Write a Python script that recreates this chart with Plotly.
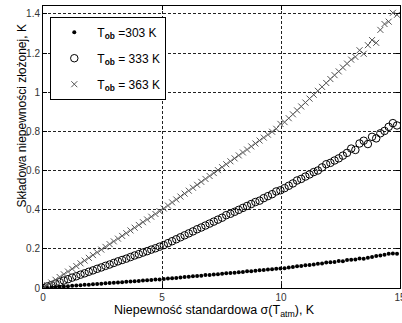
import plotly.graph_objects as go

sigma_atm = [0, 0.175, 0.35, 0.525, 0.7, 0.875, 1.05, 1.225, 1.4, 1.575,
             1.75, 1.925, 2.1, 2.275, 2.45, 2.625, 2.8, 2.975, 3.15, 3.325,
             3.5, 3.675, 3.85, 4.025, 4.2, 4.375, 4.55, 4.725, 4.9, 5.075,
             5.25, 5.425, 5.6, 5.775, 5.95, 6.125, 6.3, 6.475, 6.65, 6.825,
             7.0, 7.175, 7.35, 7.525, 7.7, 7.875, 8.05, 8.225, 8.4, 8.575,
             8.75, 8.925, 9.1, 9.275, 9.45, 9.625, 9.8, 9.975, 10.15, 10.325,
             10.5, 10.675, 10.85, 11.025, 11.2, 11.375, 11.55, 11.725, 11.9, 12.075,
             12.25, 12.425, 12.6, 12.775, 12.95, 13.125, 13.3, 13.475, 13.65, 13.825,
             14.0, 14.175, 14.35, 14.525, 14.7, 14.875]

u_303 = [0, 0.002, 0.003, 0.005, 0.006, 0.008, 0.009, 0.011, 0.013, 0.014,
         0.016, 0.017, 0.019, 0.020, 0.022, 0.024, 0.025, 0.027, 0.028, 0.030,
         0.032, 0.033, 0.035, 0.036, 0.038, 0.039, 0.041, 0.043, 0.044, 0.046,
         0.048, 0.050, 0.051, 0.053, 0.056, 0.057, 0.060, 0.061, 0.063, 0.066,
         0.067, 0.069, 0.070, 0.073, 0.075, 0.077, 0.078, 0.081, 0.082, 0.085,
         0.086, 0.088, 0.091, 0.092, 0.094, 0.096, 0.098, 0.100, 0.101, 0.105,
         0.107, 0.111, 0.112, 0.116, 0.118, 0.120, 0.124, 0.125, 0.130, 0.131,
         0.133, 0.138, 0.136, 0.143, 0.144, 0.146, 0.151, 0.149, 0.155, 0.158,
         0.163, 0.166, 0.170, 0.175, 0.176, 0.175]

u_333 = [0, 0.008, 0.015, 0.023, 0.030, 0.038, 0.045, 0.053, 0.060, 0.068,
         0.075, 0.083, 0.090, 0.098, 0.105, 0.113, 0.120, 0.128, 0.136, 0.143,
         0.150, 0.158, 0.166, 0.173, 0.181, 0.188, 0.196, 0.203, 0.211, 0.219,
         0.229, 0.239, 0.249, 0.259, 0.269, 0.279, 0.289, 0.300, 0.309, 0.319,
         0.329, 0.339, 0.349, 0.359, 0.372, 0.379, 0.389, 0.399, 0.409, 0.419,
         0.429, 0.439, 0.446, 0.459, 0.469, 0.479, 0.493, 0.499, 0.510, 0.522,
         0.534, 0.549, 0.557, 0.569, 0.580, 0.592, 0.600, 0.616, 0.632, 0.639,
         0.651, 0.662, 0.676, 0.690, 0.712, 0.705, 0.738, 0.752, 0.735, 0.772,
         0.764, 0.790, 0.802, 0.823, 0.842, 0.830]

u_363 = [0, 0.014, 0.028, 0.042, 0.056, 0.070, 0.084, 0.098, 0.112, 0.126,
         0.140, 0.154, 0.168, 0.182, 0.196, 0.210, 0.224, 0.238, 0.252, 0.266,
         0.280, 0.294, 0.308, 0.322, 0.336, 0.350, 0.364, 0.378, 0.392, 0.406,
         0.421, 0.437, 0.452, 0.467, 0.482, 0.497, 0.512, 0.527, 0.542, 0.557,
         0.572, 0.587, 0.602, 0.617, 0.632, 0.647, 0.662, 0.677, 0.692, 0.707,
         0.723, 0.738, 0.753, 0.768, 0.783, 0.798, 0.813, 0.838, 0.847, 0.867,
         0.887, 0.907, 0.927, 0.947, 0.967, 0.987, 1.007, 1.027, 1.047, 1.067,
         1.087, 1.106, 1.126, 1.146, 1.166, 1.180, 1.214, 1.196, 1.240, 1.266,
         1.252, 1.318, 1.348, 1.360, 1.405, 1.395]

names = ["T<sub><b>ob</b></sub> =303 K",
         "T<sub><b>ob</b></sub> = 333 K",
         "T<sub><b>ob</b></sub> = 363 K"]

x_ticks = [0, 5, 10, 15]
y_ticks = [0, 0.2, 0.4, 0.6, 0.8, 1, 1.2, 1.4]
y_tick_text = ["0", "0.2", "0.4", "0.6", "0.8", "1", "1.2", "1.4"]

FONT = "Arial, 'Liberation Sans', Helvetica, sans-serif"

fig = go.Figure()
fig.add_trace(go.Scatter(x=sigma_atm, y=u_303, mode="markers", name=names[0],
                         legendgroup="a",
                         marker=dict(symbol="circle", size=4, color="black")))
fig.add_trace(go.Scatter(x=sigma_atm, y=u_333, mode="markers", name=names[1],
                         legendgroup="b",
                         marker=dict(symbol="circle-open", size=7.5, color="black",
                                     line=dict(width=1, color="black"))))
fig.add_trace(go.Scatter(x=sigma_atm, y=u_363, mode="markers", name=names[2],
                         legendgroup="c",
                         marker=dict(symbol="x-thin-open", size=6, color="#555",
                                     line=dict(width=1, color="#555"))))

axis_common = dict(
    showline=True, linecolor="black", linewidth=1, mirror="ticks",
    ticks="inside", ticklen=4, tickcolor="black",
    showgrid=True, gridcolor="#222", gridwidth=0.8, griddash="3px,2px",
    zeroline=False, ticklabeloverflow="allow",
    tickfont=dict(family=FONT, size=10, color="#333"),
)

fig.update_xaxes(range=[0, 15], tickvals=x_ticks, ticktext=[str(v) for v in x_ticks],
                 **axis_common)
fig.update_yaxes(range=[0, 1.44], tickvals=y_ticks, ticktext=y_tick_text,
                 **axis_common)

fig.update_layout(
    width=402, height=323,
    margin=dict(l=43, r=2, t=6, b=35, autoexpand=False),
    paper_bgcolor="white", plot_bgcolor="white",
    font=dict(family=FONT, color="black"),
    showlegend=True,
    legend=dict(x=0.0204, y=0.962, xanchor="left", yanchor="top",
                bgcolor="white", bordercolor="black", borderwidth=1,
                font=dict(family=FONT, size=12, color="black"),
                tracegroupgap=7, itemwidth=36),
    annotations=[
        dict(text="Niepewność standardowa σ(T<sub>atm</sub>), K",
             xref="paper", yref="paper", x=0.479, y=-0.047,
             xanchor="center", yanchor="top", showarrow=False,
             font=dict(family=FONT, size=12.5, color="black")),
        dict(text="Składowa niepewności złożonej, K",
             xref="paper", yref="paper", x=-0.058, y=0.609,
             xanchor="center", yanchor="middle", textangle=-90, showarrow=False,
             font=dict(family=FONT, size=12, color="black")),
    ],
)

fig.write_html("out.html", config={"displayModeBar": False},
               post_script="document.body.style.margin='0';document.body.style.padding='0';")
